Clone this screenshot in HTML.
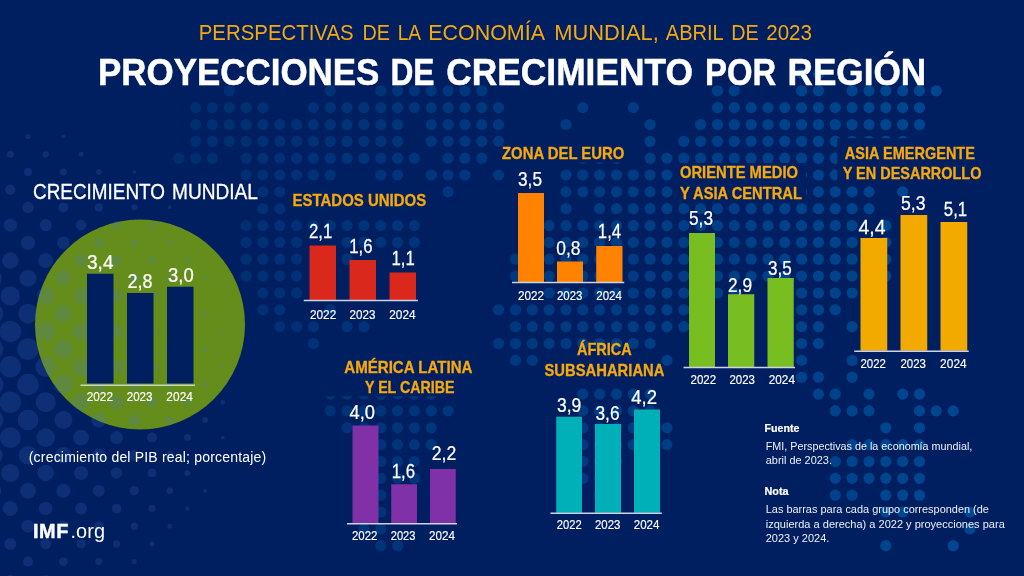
<!DOCTYPE html>
<html lang="es"><head><meta charset="utf-8"><title>Proyecciones de crecimiento por región</title><style>html,body{margin:0;padding:0;background:#001f60;overflow:hidden}svg{display:block;will-change:transform}text{white-space:pre}</style></head><body>
<svg width="1024" height="576" viewBox="0 0 1024 576" font-family="'Liberation Sans', sans-serif">
<rect x="0.00" y="0.00" width="1024.00" height="576.00" fill="#001f60"/>
<g fill="#004c97">
<circle cx="801.6" cy="73.9" r="5.6" opacity="0.78"/>
<circle cx="818.5" cy="73.9" r="5.6" opacity="0.79"/>
<circle cx="229.3" cy="90.8" r="5.6" opacity="0.37"/>
<circle cx="330.3" cy="90.8" r="5.6" opacity="0.44"/>
<circle cx="380.8" cy="90.8" r="5.6" opacity="0.47"/>
<circle cx="397.6" cy="90.8" r="5.6" opacity="0.49"/>
<circle cx="414.4" cy="90.8" r="5.6" opacity="0.50"/>
<circle cx="431.3" cy="90.8" r="5.6" opacity="0.51"/>
<circle cx="448.1" cy="90.8" r="5.6" opacity="0.52"/>
<circle cx="464.9" cy="90.8" r="5.6" opacity="0.54"/>
<circle cx="481.8" cy="90.8" r="5.6" opacity="0.55"/>
<circle cx="717.5" cy="90.8" r="5.6" opacity="0.72"/>
<circle cx="734.3" cy="90.8" r="5.6" opacity="0.73"/>
<circle cx="801.6" cy="90.8" r="5.6" opacity="0.78"/>
<circle cx="818.5" cy="90.8" r="5.6" opacity="0.79"/>
<circle cx="852.1" cy="90.8" r="5.6" opacity="0.81"/>
<circle cx="869.0" cy="90.8" r="5.6" opacity="0.83"/>
<circle cx="885.8" cy="90.8" r="5.6" opacity="0.84"/>
<circle cx="902.7" cy="90.8" r="5.6" opacity="0.85"/>
<circle cx="919.5" cy="90.8" r="5.6" opacity="0.86"/>
<circle cx="936.3" cy="90.8" r="5.6" opacity="0.87"/>
<circle cx="195.6" cy="107.6" r="5.6" opacity="0.34"/>
<circle cx="212.4" cy="107.6" r="5.6" opacity="0.35"/>
<circle cx="229.3" cy="107.6" r="5.6" opacity="0.37"/>
<circle cx="246.1" cy="107.6" r="5.6" opacity="0.38"/>
<circle cx="262.9" cy="107.6" r="5.6" opacity="0.39"/>
<circle cx="313.4" cy="107.6" r="5.6" opacity="0.43"/>
<circle cx="330.3" cy="107.6" r="5.6" opacity="0.44"/>
<circle cx="347.1" cy="107.6" r="5.6" opacity="0.45"/>
<circle cx="363.9" cy="107.6" r="5.6" opacity="0.46"/>
<circle cx="380.8" cy="107.6" r="5.6" opacity="0.47"/>
<circle cx="397.6" cy="107.6" r="5.6" opacity="0.49"/>
<circle cx="414.4" cy="107.6" r="5.6" opacity="0.50"/>
<circle cx="431.3" cy="107.6" r="5.6" opacity="0.51"/>
<circle cx="448.1" cy="107.6" r="5.6" opacity="0.52"/>
<circle cx="464.9" cy="107.6" r="5.6" opacity="0.54"/>
<circle cx="481.8" cy="107.6" r="5.6" opacity="0.55"/>
<circle cx="498.6" cy="107.6" r="5.6" opacity="0.56"/>
<circle cx="582.8" cy="107.6" r="5.6" opacity="0.62"/>
<circle cx="633.3" cy="107.6" r="5.6" opacity="0.66"/>
<circle cx="717.5" cy="107.6" r="5.6" opacity="0.72"/>
<circle cx="734.3" cy="107.6" r="5.6" opacity="0.73"/>
<circle cx="751.1" cy="107.6" r="5.6" opacity="0.74"/>
<circle cx="768.0" cy="107.6" r="5.6" opacity="0.75"/>
<circle cx="784.8" cy="107.6" r="5.6" opacity="0.77"/>
<circle cx="801.6" cy="107.6" r="5.6" opacity="0.78"/>
<circle cx="818.5" cy="107.6" r="5.6" opacity="0.79"/>
<circle cx="835.3" cy="107.6" r="5.6" opacity="0.80"/>
<circle cx="852.1" cy="107.6" r="5.6" opacity="0.81"/>
<circle cx="869.0" cy="107.6" r="5.6" opacity="0.83"/>
<circle cx="885.8" cy="107.6" r="5.6" opacity="0.84"/>
<circle cx="902.7" cy="107.6" r="5.6" opacity="0.85"/>
<circle cx="919.5" cy="107.6" r="5.6" opacity="0.86"/>
<circle cx="195.6" cy="124.5" r="5.6" opacity="0.34"/>
<circle cx="212.4" cy="124.5" r="5.6" opacity="0.35"/>
<circle cx="229.3" cy="124.5" r="5.6" opacity="0.37"/>
<circle cx="246.1" cy="124.5" r="5.6" opacity="0.38"/>
<circle cx="262.9" cy="124.5" r="5.6" opacity="0.39"/>
<circle cx="279.8" cy="124.5" r="5.6" opacity="0.40"/>
<circle cx="296.6" cy="124.5" r="5.6" opacity="0.41"/>
<circle cx="313.4" cy="124.5" r="5.6" opacity="0.43"/>
<circle cx="330.3" cy="124.5" r="5.6" opacity="0.44"/>
<circle cx="347.1" cy="124.5" r="5.6" opacity="0.45"/>
<circle cx="363.9" cy="124.5" r="5.6" opacity="0.46"/>
<circle cx="380.8" cy="124.5" r="5.6" opacity="0.47"/>
<circle cx="397.6" cy="124.5" r="5.6" opacity="0.49"/>
<circle cx="431.3" cy="124.5" r="5.6" opacity="0.51"/>
<circle cx="448.1" cy="124.5" r="5.6" opacity="0.52"/>
<circle cx="464.9" cy="124.5" r="5.6" opacity="0.54"/>
<circle cx="481.8" cy="124.5" r="5.6" opacity="0.55"/>
<circle cx="498.6" cy="124.5" r="5.6" opacity="0.56"/>
<circle cx="566.0" cy="124.5" r="5.6" opacity="0.61"/>
<circle cx="650.1" cy="124.5" r="5.6" opacity="0.67"/>
<circle cx="700.6" cy="124.5" r="5.6" opacity="0.70"/>
<circle cx="717.5" cy="124.5" r="5.6" opacity="0.72"/>
<circle cx="734.3" cy="124.5" r="5.6" opacity="0.73"/>
<circle cx="751.1" cy="124.5" r="5.6" opacity="0.74"/>
<circle cx="768.0" cy="124.5" r="5.6" opacity="0.75"/>
<circle cx="784.8" cy="124.5" r="5.6" opacity="0.77"/>
<circle cx="801.6" cy="124.5" r="5.6" opacity="0.78"/>
<circle cx="818.5" cy="124.5" r="5.6" opacity="0.79"/>
<circle cx="835.3" cy="124.5" r="5.6" opacity="0.80"/>
<circle cx="852.1" cy="124.5" r="5.6" opacity="0.81"/>
<circle cx="869.0" cy="124.5" r="5.6" opacity="0.83"/>
<circle cx="885.8" cy="124.5" r="5.6" opacity="0.84"/>
<circle cx="902.7" cy="124.5" r="5.6" opacity="0.85"/>
<circle cx="919.5" cy="124.5" r="5.6" opacity="0.86"/>
<circle cx="195.6" cy="141.3" r="5.6" opacity="0.34"/>
<circle cx="212.4" cy="141.3" r="5.6" opacity="0.35"/>
<circle cx="229.3" cy="141.3" r="5.6" opacity="0.37"/>
<circle cx="246.1" cy="141.3" r="5.6" opacity="0.38"/>
<circle cx="262.9" cy="141.3" r="5.6" opacity="0.39"/>
<circle cx="279.8" cy="141.3" r="5.6" opacity="0.40"/>
<circle cx="296.6" cy="141.3" r="5.6" opacity="0.41"/>
<circle cx="313.4" cy="141.3" r="5.6" opacity="0.43"/>
<circle cx="330.3" cy="141.3" r="5.6" opacity="0.44"/>
<circle cx="347.1" cy="141.3" r="5.6" opacity="0.45"/>
<circle cx="363.9" cy="141.3" r="5.6" opacity="0.46"/>
<circle cx="380.8" cy="141.3" r="5.6" opacity="0.47"/>
<circle cx="397.6" cy="141.3" r="5.6" opacity="0.49"/>
<circle cx="431.3" cy="141.3" r="5.6" opacity="0.51"/>
<circle cx="448.1" cy="141.3" r="5.6" opacity="0.52"/>
<circle cx="464.9" cy="141.3" r="5.6" opacity="0.54"/>
<circle cx="481.8" cy="141.3" r="5.6" opacity="0.55"/>
<circle cx="498.6" cy="141.3" r="5.6" opacity="0.56"/>
<circle cx="650.1" cy="141.3" r="5.6" opacity="0.67"/>
<circle cx="683.8" cy="141.3" r="5.6" opacity="0.69"/>
<circle cx="700.6" cy="141.3" r="5.6" opacity="0.70"/>
<circle cx="717.5" cy="141.3" r="5.6" opacity="0.72"/>
<circle cx="734.3" cy="141.3" r="5.6" opacity="0.73"/>
<circle cx="751.1" cy="141.3" r="5.6" opacity="0.74"/>
<circle cx="768.0" cy="141.3" r="5.6" opacity="0.75"/>
<circle cx="784.8" cy="141.3" r="5.6" opacity="0.77"/>
<circle cx="801.6" cy="141.3" r="5.6" opacity="0.78"/>
<circle cx="818.5" cy="141.3" r="5.6" opacity="0.79"/>
<circle cx="835.3" cy="141.3" r="5.6" opacity="0.80"/>
<circle cx="852.1" cy="141.3" r="5.6" opacity="0.81"/>
<circle cx="869.0" cy="141.3" r="5.6" opacity="0.83"/>
<circle cx="885.8" cy="141.3" r="5.6" opacity="0.84"/>
<circle cx="902.7" cy="141.3" r="5.6" opacity="0.85"/>
<circle cx="178.8" cy="158.2" r="5.6" opacity="0.33"/>
<circle cx="195.6" cy="158.2" r="5.6" opacity="0.34"/>
<circle cx="212.4" cy="158.2" r="5.6" opacity="0.35"/>
<circle cx="246.1" cy="158.2" r="5.6" opacity="0.38"/>
<circle cx="262.9" cy="158.2" r="5.6" opacity="0.39"/>
<circle cx="279.8" cy="158.2" r="5.6" opacity="0.40"/>
<circle cx="296.6" cy="158.2" r="5.6" opacity="0.41"/>
<circle cx="313.4" cy="158.2" r="5.6" opacity="0.43"/>
<circle cx="330.3" cy="158.2" r="5.6" opacity="0.44"/>
<circle cx="347.1" cy="158.2" r="5.6" opacity="0.45"/>
<circle cx="363.9" cy="158.2" r="5.6" opacity="0.46"/>
<circle cx="380.8" cy="158.2" r="5.6" opacity="0.47"/>
<circle cx="397.6" cy="158.2" r="5.6" opacity="0.49"/>
<circle cx="414.4" cy="158.2" r="5.6" opacity="0.50"/>
<circle cx="448.1" cy="158.2" r="5.6" opacity="0.52"/>
<circle cx="464.9" cy="158.2" r="5.6" opacity="0.54"/>
<circle cx="481.8" cy="158.2" r="5.6" opacity="0.55"/>
<circle cx="582.8" cy="158.2" r="5.6" opacity="0.62"/>
<circle cx="599.6" cy="158.2" r="5.6" opacity="0.63"/>
<circle cx="616.5" cy="158.2" r="5.6" opacity="0.64"/>
<circle cx="650.1" cy="158.2" r="5.6" opacity="0.67"/>
<circle cx="667.0" cy="158.2" r="5.6" opacity="0.68"/>
<circle cx="683.8" cy="158.2" r="5.6" opacity="0.69"/>
<circle cx="700.6" cy="158.2" r="5.6" opacity="0.70"/>
<circle cx="717.5" cy="158.2" r="5.6" opacity="0.72"/>
<circle cx="734.3" cy="158.2" r="5.6" opacity="0.73"/>
<circle cx="751.1" cy="158.2" r="5.6" opacity="0.74"/>
<circle cx="768.0" cy="158.2" r="5.6" opacity="0.75"/>
<circle cx="784.8" cy="158.2" r="5.6" opacity="0.77"/>
<circle cx="801.6" cy="158.2" r="5.6" opacity="0.78"/>
<circle cx="818.5" cy="158.2" r="5.6" opacity="0.79"/>
<circle cx="835.3" cy="158.2" r="5.6" opacity="0.80"/>
<circle cx="852.1" cy="158.2" r="5.6" opacity="0.81"/>
<circle cx="869.0" cy="158.2" r="5.6" opacity="0.83"/>
<circle cx="885.8" cy="158.2" r="5.6" opacity="0.84"/>
<circle cx="902.7" cy="158.2" r="5.6" opacity="0.85"/>
<circle cx="246.1" cy="175.0" r="5.6" opacity="0.38"/>
<circle cx="262.9" cy="175.0" r="5.6" opacity="0.39"/>
<circle cx="279.8" cy="175.0" r="5.6" opacity="0.40"/>
<circle cx="296.6" cy="175.0" r="5.6" opacity="0.41"/>
<circle cx="313.4" cy="175.0" r="5.6" opacity="0.43"/>
<circle cx="330.3" cy="175.0" r="5.6" opacity="0.44"/>
<circle cx="380.8" cy="175.0" r="5.6" opacity="0.47"/>
<circle cx="397.6" cy="175.0" r="5.6" opacity="0.49"/>
<circle cx="431.3" cy="175.0" r="5.6" opacity="0.51"/>
<circle cx="448.1" cy="175.0" r="5.6" opacity="0.52"/>
<circle cx="464.9" cy="175.0" r="5.6" opacity="0.54"/>
<circle cx="498.6" cy="175.0" r="5.6" opacity="0.56"/>
<circle cx="566.0" cy="175.0" r="5.6" opacity="0.61"/>
<circle cx="582.8" cy="175.0" r="5.6" opacity="0.62"/>
<circle cx="599.6" cy="175.0" r="5.6" opacity="0.63"/>
<circle cx="616.5" cy="175.0" r="5.6" opacity="0.64"/>
<circle cx="633.3" cy="175.0" r="5.6" opacity="0.66"/>
<circle cx="650.1" cy="175.0" r="5.6" opacity="0.67"/>
<circle cx="667.0" cy="175.0" r="5.6" opacity="0.68"/>
<circle cx="683.8" cy="175.0" r="5.6" opacity="0.69"/>
<circle cx="700.6" cy="175.0" r="5.6" opacity="0.70"/>
<circle cx="717.5" cy="175.0" r="5.6" opacity="0.72"/>
<circle cx="734.3" cy="175.0" r="5.6" opacity="0.73"/>
<circle cx="751.1" cy="175.0" r="5.6" opacity="0.74"/>
<circle cx="768.0" cy="175.0" r="5.6" opacity="0.75"/>
<circle cx="784.8" cy="175.0" r="5.6" opacity="0.77"/>
<circle cx="801.6" cy="175.0" r="5.6" opacity="0.78"/>
<circle cx="818.5" cy="175.0" r="5.6" opacity="0.79"/>
<circle cx="835.3" cy="175.0" r="5.6" opacity="0.80"/>
<circle cx="852.1" cy="175.0" r="5.6" opacity="0.81"/>
<circle cx="869.0" cy="175.0" r="5.6" opacity="0.83"/>
<circle cx="885.8" cy="175.0" r="5.6" opacity="0.84"/>
<circle cx="902.7" cy="175.0" r="5.6" opacity="0.85"/>
<circle cx="262.9" cy="191.9" r="5.6" opacity="0.39"/>
<circle cx="279.8" cy="191.9" r="5.6" opacity="0.40"/>
<circle cx="448.1" cy="191.9" r="5.6" opacity="0.52"/>
<circle cx="566.0" cy="191.9" r="5.6" opacity="0.61"/>
<circle cx="582.8" cy="191.9" r="5.6" opacity="0.62"/>
<circle cx="599.6" cy="191.9" r="5.6" opacity="0.63"/>
<circle cx="616.5" cy="191.9" r="5.6" opacity="0.64"/>
<circle cx="633.3" cy="191.9" r="5.6" opacity="0.66"/>
<circle cx="650.1" cy="191.9" r="5.6" opacity="0.67"/>
<circle cx="667.0" cy="191.9" r="5.6" opacity="0.68"/>
<circle cx="683.8" cy="191.9" r="5.6" opacity="0.69"/>
<circle cx="700.6" cy="191.9" r="5.6" opacity="0.70"/>
<circle cx="717.5" cy="191.9" r="5.6" opacity="0.72"/>
<circle cx="734.3" cy="191.9" r="5.6" opacity="0.73"/>
<circle cx="751.1" cy="191.9" r="5.6" opacity="0.74"/>
<circle cx="768.0" cy="191.9" r="5.6" opacity="0.75"/>
<circle cx="784.8" cy="191.9" r="5.6" opacity="0.77"/>
<circle cx="801.6" cy="191.9" r="5.6" opacity="0.78"/>
<circle cx="818.5" cy="191.9" r="5.6" opacity="0.79"/>
<circle cx="835.3" cy="191.9" r="5.6" opacity="0.80"/>
<circle cx="852.1" cy="191.9" r="5.6" opacity="0.81"/>
<circle cx="869.0" cy="191.9" r="5.6" opacity="0.83"/>
<circle cx="902.7" cy="191.9" r="5.6" opacity="0.85"/>
<circle cx="262.9" cy="208.7" r="5.6" opacity="0.39"/>
<circle cx="279.8" cy="208.7" r="5.6" opacity="0.40"/>
<circle cx="566.0" cy="208.7" r="5.6" opacity="0.61"/>
<circle cx="599.6" cy="208.7" r="5.6" opacity="0.63"/>
<circle cx="616.5" cy="208.7" r="5.6" opacity="0.64"/>
<circle cx="633.3" cy="208.7" r="5.6" opacity="0.66"/>
<circle cx="650.1" cy="208.7" r="5.6" opacity="0.67"/>
<circle cx="667.0" cy="208.7" r="5.6" opacity="0.68"/>
<circle cx="683.8" cy="208.7" r="5.6" opacity="0.69"/>
<circle cx="700.6" cy="208.7" r="5.6" opacity="0.70"/>
<circle cx="717.5" cy="208.7" r="5.6" opacity="0.72"/>
<circle cx="734.3" cy="208.7" r="5.6" opacity="0.73"/>
<circle cx="751.1" cy="208.7" r="5.6" opacity="0.74"/>
<circle cx="768.0" cy="208.7" r="5.6" opacity="0.75"/>
<circle cx="784.8" cy="208.7" r="5.6" opacity="0.77"/>
<circle cx="801.6" cy="208.7" r="5.6" opacity="0.78"/>
<circle cx="818.5" cy="208.7" r="5.6" opacity="0.79"/>
<circle cx="835.3" cy="208.7" r="5.6" opacity="0.80"/>
<circle cx="852.1" cy="208.7" r="5.6" opacity="0.81"/>
<circle cx="869.0" cy="208.7" r="5.6" opacity="0.83"/>
<circle cx="246.1" cy="225.6" r="5.6" opacity="0.38"/>
<circle cx="262.9" cy="225.6" r="5.6" opacity="0.39"/>
<circle cx="279.8" cy="225.6" r="5.6" opacity="0.40"/>
<circle cx="296.6" cy="225.6" r="5.6" opacity="0.41"/>
<circle cx="313.4" cy="225.6" r="5.6" opacity="0.43"/>
<circle cx="330.3" cy="225.6" r="5.6" opacity="0.44"/>
<circle cx="347.1" cy="225.6" r="5.6" opacity="0.45"/>
<circle cx="363.9" cy="225.6" r="5.6" opacity="0.46"/>
<circle cx="380.8" cy="225.6" r="5.6" opacity="0.47"/>
<circle cx="397.6" cy="225.6" r="5.6" opacity="0.49"/>
<circle cx="414.4" cy="225.6" r="5.6" opacity="0.50"/>
<circle cx="549.1" cy="225.6" r="5.6" opacity="0.60"/>
<circle cx="566.0" cy="225.6" r="5.6" opacity="0.61"/>
<circle cx="582.8" cy="225.6" r="5.6" opacity="0.62"/>
<circle cx="599.6" cy="225.6" r="5.6" opacity="0.63"/>
<circle cx="616.5" cy="225.6" r="5.6" opacity="0.64"/>
<circle cx="633.3" cy="225.6" r="5.6" opacity="0.66"/>
<circle cx="650.1" cy="225.6" r="5.6" opacity="0.67"/>
<circle cx="667.0" cy="225.6" r="5.6" opacity="0.68"/>
<circle cx="683.8" cy="225.6" r="5.6" opacity="0.69"/>
<circle cx="700.6" cy="225.6" r="5.6" opacity="0.70"/>
<circle cx="717.5" cy="225.6" r="5.6" opacity="0.72"/>
<circle cx="734.3" cy="225.6" r="5.6" opacity="0.73"/>
<circle cx="751.1" cy="225.6" r="5.6" opacity="0.74"/>
<circle cx="768.0" cy="225.6" r="5.6" opacity="0.75"/>
<circle cx="784.8" cy="225.6" r="5.6" opacity="0.77"/>
<circle cx="801.6" cy="225.6" r="5.6" opacity="0.78"/>
<circle cx="818.5" cy="225.6" r="5.6" opacity="0.79"/>
<circle cx="835.3" cy="225.6" r="5.6" opacity="0.80"/>
<circle cx="852.1" cy="225.6" r="5.6" opacity="0.81"/>
<circle cx="885.8" cy="225.6" r="5.6" opacity="0.84"/>
<circle cx="246.1" cy="242.4" r="5.6" opacity="0.38"/>
<circle cx="262.9" cy="242.4" r="5.6" opacity="0.39"/>
<circle cx="279.8" cy="242.4" r="5.6" opacity="0.40"/>
<circle cx="296.6" cy="242.4" r="5.6" opacity="0.41"/>
<circle cx="347.1" cy="242.4" r="5.6" opacity="0.45"/>
<circle cx="363.9" cy="242.4" r="5.6" opacity="0.46"/>
<circle cx="380.8" cy="242.4" r="5.6" opacity="0.47"/>
<circle cx="397.6" cy="242.4" r="5.6" opacity="0.49"/>
<circle cx="414.4" cy="242.4" r="5.6" opacity="0.50"/>
<circle cx="549.1" cy="242.4" r="5.6" opacity="0.60"/>
<circle cx="566.0" cy="242.4" r="5.6" opacity="0.61"/>
<circle cx="582.8" cy="242.4" r="5.6" opacity="0.62"/>
<circle cx="599.6" cy="242.4" r="5.6" opacity="0.63"/>
<circle cx="616.5" cy="242.4" r="5.6" opacity="0.64"/>
<circle cx="633.3" cy="242.4" r="5.6" opacity="0.66"/>
<circle cx="650.1" cy="242.4" r="5.6" opacity="0.67"/>
<circle cx="667.0" cy="242.4" r="5.6" opacity="0.68"/>
<circle cx="683.8" cy="242.4" r="5.6" opacity="0.69"/>
<circle cx="700.6" cy="242.4" r="5.6" opacity="0.70"/>
<circle cx="717.5" cy="242.4" r="5.6" opacity="0.72"/>
<circle cx="734.3" cy="242.4" r="5.6" opacity="0.73"/>
<circle cx="751.1" cy="242.4" r="5.6" opacity="0.74"/>
<circle cx="768.0" cy="242.4" r="5.6" opacity="0.75"/>
<circle cx="784.8" cy="242.4" r="5.6" opacity="0.77"/>
<circle cx="801.6" cy="242.4" r="5.6" opacity="0.78"/>
<circle cx="818.5" cy="242.4" r="5.6" opacity="0.79"/>
<circle cx="835.3" cy="242.4" r="5.6" opacity="0.80"/>
<circle cx="852.1" cy="242.4" r="5.6" opacity="0.81"/>
<circle cx="885.8" cy="242.4" r="5.6" opacity="0.84"/>
<circle cx="246.1" cy="259.2" r="5.6" opacity="0.38"/>
<circle cx="262.9" cy="259.2" r="5.6" opacity="0.39"/>
<circle cx="279.8" cy="259.2" r="5.6" opacity="0.40"/>
<circle cx="296.6" cy="259.2" r="5.6" opacity="0.41"/>
<circle cx="347.1" cy="259.2" r="5.6" opacity="0.45"/>
<circle cx="515.5" cy="259.2" r="5.6" opacity="0.57"/>
<circle cx="549.1" cy="259.2" r="5.6" opacity="0.60"/>
<circle cx="566.0" cy="259.2" r="5.6" opacity="0.61"/>
<circle cx="582.8" cy="259.2" r="5.6" opacity="0.62"/>
<circle cx="599.6" cy="259.2" r="5.6" opacity="0.63"/>
<circle cx="616.5" cy="259.2" r="5.6" opacity="0.64"/>
<circle cx="633.3" cy="259.2" r="5.6" opacity="0.66"/>
<circle cx="650.1" cy="259.2" r="5.6" opacity="0.67"/>
<circle cx="667.0" cy="259.2" r="5.6" opacity="0.68"/>
<circle cx="683.8" cy="259.2" r="5.6" opacity="0.69"/>
<circle cx="700.6" cy="259.2" r="5.6" opacity="0.70"/>
<circle cx="717.5" cy="259.2" r="5.6" opacity="0.72"/>
<circle cx="734.3" cy="259.2" r="5.6" opacity="0.73"/>
<circle cx="751.1" cy="259.2" r="5.6" opacity="0.74"/>
<circle cx="768.0" cy="259.2" r="5.6" opacity="0.75"/>
<circle cx="784.8" cy="259.2" r="5.6" opacity="0.77"/>
<circle cx="801.6" cy="259.2" r="5.6" opacity="0.78"/>
<circle cx="818.5" cy="259.2" r="5.6" opacity="0.79"/>
<circle cx="835.3" cy="259.2" r="5.6" opacity="0.80"/>
<circle cx="852.1" cy="259.2" r="5.6" opacity="0.81"/>
<circle cx="885.8" cy="259.2" r="5.6" opacity="0.84"/>
<circle cx="246.1" cy="276.1" r="5.6" opacity="0.38"/>
<circle cx="262.9" cy="276.1" r="5.6" opacity="0.39"/>
<circle cx="279.8" cy="276.1" r="5.6" opacity="0.40"/>
<circle cx="296.6" cy="276.1" r="5.6" opacity="0.41"/>
<circle cx="515.5" cy="276.1" r="5.6" opacity="0.57"/>
<circle cx="549.1" cy="276.1" r="5.6" opacity="0.60"/>
<circle cx="566.0" cy="276.1" r="5.6" opacity="0.61"/>
<circle cx="582.8" cy="276.1" r="5.6" opacity="0.62"/>
<circle cx="599.6" cy="276.1" r="5.6" opacity="0.63"/>
<circle cx="616.5" cy="276.1" r="5.6" opacity="0.64"/>
<circle cx="633.3" cy="276.1" r="5.6" opacity="0.66"/>
<circle cx="650.1" cy="276.1" r="5.6" opacity="0.67"/>
<circle cx="667.0" cy="276.1" r="5.6" opacity="0.68"/>
<circle cx="683.8" cy="276.1" r="5.6" opacity="0.69"/>
<circle cx="700.6" cy="276.1" r="5.6" opacity="0.70"/>
<circle cx="717.5" cy="276.1" r="5.6" opacity="0.72"/>
<circle cx="734.3" cy="276.1" r="5.6" opacity="0.73"/>
<circle cx="751.1" cy="276.1" r="5.6" opacity="0.74"/>
<circle cx="768.0" cy="276.1" r="5.6" opacity="0.75"/>
<circle cx="784.8" cy="276.1" r="5.6" opacity="0.77"/>
<circle cx="801.6" cy="276.1" r="5.6" opacity="0.78"/>
<circle cx="818.5" cy="276.1" r="5.6" opacity="0.79"/>
<circle cx="835.3" cy="276.1" r="5.6" opacity="0.80"/>
<circle cx="852.1" cy="276.1" r="5.6" opacity="0.81"/>
<circle cx="885.8" cy="276.1" r="5.6" opacity="0.84"/>
<circle cx="262.9" cy="293.0" r="5.6" opacity="0.39"/>
<circle cx="279.8" cy="293.0" r="5.6" opacity="0.40"/>
<circle cx="296.6" cy="293.0" r="5.6" opacity="0.41"/>
<circle cx="549.1" cy="293.0" r="5.6" opacity="0.60"/>
<circle cx="566.0" cy="293.0" r="5.6" opacity="0.61"/>
<circle cx="582.8" cy="293.0" r="5.6" opacity="0.62"/>
<circle cx="599.6" cy="293.0" r="5.6" opacity="0.63"/>
<circle cx="616.5" cy="293.0" r="5.6" opacity="0.64"/>
<circle cx="633.3" cy="293.0" r="5.6" opacity="0.66"/>
<circle cx="650.1" cy="293.0" r="5.6" opacity="0.67"/>
<circle cx="667.0" cy="293.0" r="5.6" opacity="0.68"/>
<circle cx="683.8" cy="293.0" r="5.6" opacity="0.69"/>
<circle cx="717.5" cy="293.0" r="5.6" opacity="0.72"/>
<circle cx="734.3" cy="293.0" r="5.6" opacity="0.73"/>
<circle cx="801.6" cy="293.0" r="5.6" opacity="0.78"/>
<circle cx="818.5" cy="293.0" r="5.6" opacity="0.79"/>
<circle cx="835.3" cy="293.0" r="5.6" opacity="0.80"/>
<circle cx="852.1" cy="293.0" r="5.6" opacity="0.81"/>
<circle cx="262.9" cy="309.8" r="5.6" opacity="0.39"/>
<circle cx="279.8" cy="309.8" r="5.6" opacity="0.40"/>
<circle cx="330.3" cy="309.8" r="5.6" opacity="0.44"/>
<circle cx="498.6" cy="309.8" r="5.6" opacity="0.56"/>
<circle cx="515.5" cy="309.8" r="5.6" opacity="0.57"/>
<circle cx="532.3" cy="309.8" r="5.6" opacity="0.58"/>
<circle cx="549.1" cy="309.8" r="5.6" opacity="0.60"/>
<circle cx="566.0" cy="309.8" r="5.6" opacity="0.61"/>
<circle cx="582.8" cy="309.8" r="5.6" opacity="0.62"/>
<circle cx="599.6" cy="309.8" r="5.6" opacity="0.63"/>
<circle cx="616.5" cy="309.8" r="5.6" opacity="0.64"/>
<circle cx="633.3" cy="309.8" r="5.6" opacity="0.66"/>
<circle cx="650.1" cy="309.8" r="5.6" opacity="0.67"/>
<circle cx="667.0" cy="309.8" r="5.6" opacity="0.68"/>
<circle cx="683.8" cy="309.8" r="5.6" opacity="0.69"/>
<circle cx="801.6" cy="309.8" r="5.6" opacity="0.78"/>
<circle cx="818.5" cy="309.8" r="5.6" opacity="0.79"/>
<circle cx="835.3" cy="309.8" r="5.6" opacity="0.80"/>
<circle cx="279.8" cy="326.7" r="5.6" opacity="0.40"/>
<circle cx="296.6" cy="326.7" r="5.6" opacity="0.41"/>
<circle cx="313.4" cy="326.7" r="5.6" opacity="0.43"/>
<circle cx="347.1" cy="326.7" r="5.6" opacity="0.45"/>
<circle cx="363.9" cy="326.7" r="5.6" opacity="0.46"/>
<circle cx="515.5" cy="326.7" r="5.6" opacity="0.57"/>
<circle cx="532.3" cy="326.7" r="5.6" opacity="0.58"/>
<circle cx="549.1" cy="326.7" r="5.6" opacity="0.60"/>
<circle cx="566.0" cy="326.7" r="5.6" opacity="0.61"/>
<circle cx="582.8" cy="326.7" r="5.6" opacity="0.62"/>
<circle cx="599.6" cy="326.7" r="5.6" opacity="0.63"/>
<circle cx="616.5" cy="326.7" r="5.6" opacity="0.64"/>
<circle cx="633.3" cy="326.7" r="5.6" opacity="0.66"/>
<circle cx="650.1" cy="326.7" r="5.6" opacity="0.67"/>
<circle cx="667.0" cy="326.7" r="5.6" opacity="0.68"/>
<circle cx="683.8" cy="326.7" r="5.6" opacity="0.69"/>
<circle cx="801.6" cy="326.7" r="5.6" opacity="0.78"/>
<circle cx="818.5" cy="326.7" r="5.6" opacity="0.79"/>
<circle cx="852.1" cy="326.7" r="5.6" opacity="0.81"/>
<circle cx="313.4" cy="343.5" r="5.6" opacity="0.43"/>
<circle cx="498.6" cy="343.5" r="5.6" opacity="0.56"/>
<circle cx="515.5" cy="343.5" r="5.6" opacity="0.57"/>
<circle cx="532.3" cy="343.5" r="5.6" opacity="0.58"/>
<circle cx="549.1" cy="343.5" r="5.6" opacity="0.60"/>
<circle cx="566.0" cy="343.5" r="5.6" opacity="0.61"/>
<circle cx="582.8" cy="343.5" r="5.6" opacity="0.62"/>
<circle cx="599.6" cy="343.5" r="5.6" opacity="0.63"/>
<circle cx="616.5" cy="343.5" r="5.6" opacity="0.64"/>
<circle cx="633.3" cy="343.5" r="5.6" opacity="0.66"/>
<circle cx="650.1" cy="343.5" r="5.6" opacity="0.67"/>
<circle cx="801.6" cy="343.5" r="5.6" opacity="0.78"/>
<circle cx="818.5" cy="343.5" r="5.6" opacity="0.79"/>
<circle cx="515.5" cy="360.4" r="5.6" opacity="0.57"/>
<circle cx="532.3" cy="360.4" r="5.6" opacity="0.58"/>
<circle cx="549.1" cy="360.4" r="5.6" opacity="0.60"/>
<circle cx="566.0" cy="360.4" r="5.6" opacity="0.61"/>
<circle cx="582.8" cy="360.4" r="5.6" opacity="0.62"/>
<circle cx="599.6" cy="360.4" r="5.6" opacity="0.63"/>
<circle cx="616.5" cy="360.4" r="5.6" opacity="0.64"/>
<circle cx="633.3" cy="360.4" r="5.6" opacity="0.66"/>
<circle cx="650.1" cy="360.4" r="5.6" opacity="0.67"/>
<circle cx="667.0" cy="360.4" r="5.6" opacity="0.68"/>
<circle cx="801.6" cy="360.4" r="5.6" opacity="0.78"/>
<circle cx="852.1" cy="360.4" r="5.6" opacity="0.81"/>
<circle cx="566.0" cy="377.2" r="5.6" opacity="0.61"/>
<circle cx="582.8" cy="377.2" r="5.6" opacity="0.62"/>
<circle cx="599.6" cy="377.2" r="5.6" opacity="0.63"/>
<circle cx="616.5" cy="377.2" r="5.6" opacity="0.64"/>
<circle cx="633.3" cy="377.2" r="5.6" opacity="0.66"/>
<circle cx="650.1" cy="377.2" r="5.6" opacity="0.67"/>
<circle cx="801.6" cy="377.2" r="5.6" opacity="0.78"/>
<circle cx="818.5" cy="377.2" r="5.6" opacity="0.79"/>
<circle cx="852.1" cy="377.2" r="5.6" opacity="0.81"/>
<circle cx="330.3" cy="394.1" r="5.6" opacity="0.44"/>
<circle cx="347.1" cy="394.1" r="5.6" opacity="0.45"/>
<circle cx="363.9" cy="394.1" r="5.6" opacity="0.46"/>
<circle cx="380.8" cy="394.1" r="5.6" opacity="0.47"/>
<circle cx="397.6" cy="394.1" r="5.6" opacity="0.49"/>
<circle cx="414.4" cy="394.1" r="5.6" opacity="0.50"/>
<circle cx="431.3" cy="394.1" r="5.6" opacity="0.51"/>
<circle cx="582.8" cy="394.1" r="5.6" opacity="0.62"/>
<circle cx="599.6" cy="394.1" r="5.6" opacity="0.63"/>
<circle cx="616.5" cy="394.1" r="5.6" opacity="0.64"/>
<circle cx="633.3" cy="394.1" r="5.6" opacity="0.66"/>
<circle cx="650.1" cy="394.1" r="5.6" opacity="0.67"/>
<circle cx="818.5" cy="394.1" r="5.6" opacity="0.79"/>
<circle cx="835.3" cy="394.1" r="5.6" opacity="0.80"/>
<circle cx="869.0" cy="394.1" r="5.6" opacity="0.83"/>
<circle cx="902.7" cy="394.1" r="5.6" opacity="0.85"/>
<circle cx="919.5" cy="394.1" r="5.6" opacity="0.86"/>
<circle cx="330.3" cy="410.9" r="5.6" opacity="0.44"/>
<circle cx="347.1" cy="410.9" r="5.6" opacity="0.45"/>
<circle cx="363.9" cy="410.9" r="5.6" opacity="0.46"/>
<circle cx="380.8" cy="410.9" r="5.6" opacity="0.47"/>
<circle cx="397.6" cy="410.9" r="5.6" opacity="0.49"/>
<circle cx="414.4" cy="410.9" r="5.6" opacity="0.50"/>
<circle cx="431.3" cy="410.9" r="5.6" opacity="0.51"/>
<circle cx="448.1" cy="410.9" r="5.6" opacity="0.52"/>
<circle cx="582.8" cy="410.9" r="5.6" opacity="0.62"/>
<circle cx="599.6" cy="410.9" r="5.6" opacity="0.63"/>
<circle cx="616.5" cy="410.9" r="5.6" opacity="0.64"/>
<circle cx="633.3" cy="410.9" r="5.6" opacity="0.66"/>
<circle cx="650.1" cy="410.9" r="5.6" opacity="0.67"/>
<circle cx="835.3" cy="410.9" r="5.6" opacity="0.80"/>
<circle cx="852.1" cy="410.9" r="5.6" opacity="0.81"/>
<circle cx="869.0" cy="410.9" r="5.6" opacity="0.83"/>
<circle cx="919.5" cy="410.9" r="5.6" opacity="0.86"/>
<circle cx="936.3" cy="410.9" r="5.6" opacity="0.87"/>
<circle cx="953.2" cy="410.9" r="5.6" opacity="0.88"/>
<circle cx="347.1" cy="427.8" r="5.6" opacity="0.45"/>
<circle cx="363.9" cy="427.8" r="5.6" opacity="0.46"/>
<circle cx="380.8" cy="427.8" r="5.6" opacity="0.47"/>
<circle cx="397.6" cy="427.8" r="5.6" opacity="0.49"/>
<circle cx="414.4" cy="427.8" r="5.6" opacity="0.50"/>
<circle cx="431.3" cy="427.8" r="5.6" opacity="0.51"/>
<circle cx="582.8" cy="427.8" r="5.6" opacity="0.62"/>
<circle cx="599.6" cy="427.8" r="5.6" opacity="0.63"/>
<circle cx="616.5" cy="427.8" r="5.6" opacity="0.64"/>
<circle cx="633.3" cy="427.8" r="5.6" opacity="0.66"/>
<circle cx="667.0" cy="427.8" r="5.6" opacity="0.68"/>
<circle cx="885.8" cy="427.8" r="5.6" opacity="0.84"/>
<circle cx="919.5" cy="427.8" r="5.6" opacity="0.86"/>
<circle cx="380.8" cy="444.6" r="5.6" opacity="0.47"/>
<circle cx="397.6" cy="444.6" r="5.6" opacity="0.49"/>
<circle cx="414.4" cy="444.6" r="5.6" opacity="0.50"/>
<circle cx="431.3" cy="444.6" r="5.6" opacity="0.51"/>
<circle cx="582.8" cy="444.6" r="5.6" opacity="0.62"/>
<circle cx="599.6" cy="444.6" r="5.6" opacity="0.63"/>
<circle cx="616.5" cy="444.6" r="5.6" opacity="0.64"/>
<circle cx="633.3" cy="444.6" r="5.6" opacity="0.66"/>
<circle cx="667.0" cy="444.6" r="5.6" opacity="0.68"/>
<circle cx="852.1" cy="444.6" r="5.6" opacity="0.81"/>
<circle cx="869.0" cy="444.6" r="5.6" opacity="0.83"/>
<circle cx="885.8" cy="444.6" r="5.6" opacity="0.84"/>
<circle cx="902.7" cy="444.6" r="5.6" opacity="0.85"/>
<circle cx="919.5" cy="444.6" r="5.6" opacity="0.86"/>
<circle cx="380.8" cy="461.5" r="5.6" opacity="0.47"/>
<circle cx="397.6" cy="461.5" r="5.6" opacity="0.49"/>
<circle cx="414.4" cy="461.5" r="5.6" opacity="0.50"/>
<circle cx="582.8" cy="461.5" r="5.6" opacity="0.62"/>
<circle cx="599.6" cy="461.5" r="5.6" opacity="0.63"/>
<circle cx="616.5" cy="461.5" r="5.6" opacity="0.64"/>
<circle cx="835.3" cy="461.5" r="5.6" opacity="0.80"/>
<circle cx="852.1" cy="461.5" r="5.6" opacity="0.81"/>
<circle cx="869.0" cy="461.5" r="5.6" opacity="0.83"/>
<circle cx="885.8" cy="461.5" r="5.6" opacity="0.84"/>
<circle cx="902.7" cy="461.5" r="5.6" opacity="0.85"/>
<circle cx="919.5" cy="461.5" r="5.6" opacity="0.86"/>
<circle cx="380.8" cy="478.3" r="5.6" opacity="0.47"/>
<circle cx="397.6" cy="478.3" r="5.6" opacity="0.49"/>
<circle cx="414.4" cy="478.3" r="5.6" opacity="0.50"/>
<circle cx="582.8" cy="478.3" r="5.6" opacity="0.62"/>
<circle cx="599.6" cy="478.3" r="5.6" opacity="0.63"/>
<circle cx="835.3" cy="478.3" r="5.6" opacity="0.80"/>
<circle cx="852.1" cy="478.3" r="5.6" opacity="0.81"/>
<circle cx="869.0" cy="478.3" r="5.6" opacity="0.83"/>
<circle cx="885.8" cy="478.3" r="5.6" opacity="0.84"/>
<circle cx="902.7" cy="478.3" r="5.6" opacity="0.85"/>
<circle cx="919.5" cy="478.3" r="5.6" opacity="0.86"/>
<circle cx="380.8" cy="495.2" r="5.6" opacity="0.47"/>
<circle cx="397.6" cy="495.2" r="5.6" opacity="0.49"/>
<circle cx="599.6" cy="495.2" r="5.6" opacity="0.63"/>
<circle cx="835.3" cy="495.2" r="5.6" opacity="0.80"/>
<circle cx="852.1" cy="495.2" r="5.6" opacity="0.81"/>
<circle cx="885.8" cy="495.2" r="5.6" opacity="0.84"/>
<circle cx="902.7" cy="495.2" r="5.6" opacity="0.85"/>
<circle cx="919.5" cy="495.2" r="5.6" opacity="0.86"/>
<circle cx="380.8" cy="512.0" r="5.6" opacity="0.47"/>
<circle cx="397.6" cy="512.0" r="5.6" opacity="0.49"/>
<circle cx="885.8" cy="512.0" r="5.6" opacity="0.84"/>
<circle cx="902.7" cy="512.0" r="5.6" opacity="0.85"/>
<circle cx="970.0" cy="512.0" r="5.6" opacity="0.88"/>
<circle cx="363.9" cy="528.9" r="5.6" opacity="0.46"/>
<circle cx="380.8" cy="528.9" r="5.6" opacity="0.47"/>
<circle cx="970.0" cy="528.9" r="5.6" opacity="0.88"/>
<circle cx="380.8" cy="545.7" r="5.6" opacity="0.47"/>
<circle cx="397.6" cy="545.7" r="5.6" opacity="0.49"/>
<circle cx="885.8" cy="545.7" r="5.6" opacity="0.84"/>
<circle cx="953.2" cy="545.7" r="5.6" opacity="0.88"/>
</g>
<circle cx="140" cy="324.4" r="105" fill="#658d1b"/>
<g fill="#4678d7" fill-opacity="0.18">
<circle cx="-7.4" cy="136.5" r="2.90"/>
<circle cx="28.0" cy="136.5" r="2.61"/>
<circle cx="63.4" cy="136.5" r="2.12"/>
<circle cx="10.3" cy="154.3" r="3.57"/>
<circle cx="45.7" cy="154.3" r="3.15"/>
<circle cx="81.1" cy="154.3" r="2.51"/>
<circle cx="-7.4" cy="172.0" r="4.48"/>
<circle cx="28.0" cy="172.0" r="4.16"/>
<circle cx="63.4" cy="172.0" r="3.58"/>
<circle cx="98.8" cy="172.0" r="2.81"/>
<circle cx="134.3" cy="172.0" r="1.87"/>
<circle cx="10.3" cy="189.7" r="5.13"/>
<circle cx="45.7" cy="189.7" r="4.64"/>
<circle cx="81.1" cy="189.7" r="3.91"/>
<circle cx="116.5" cy="189.7" r="2.99"/>
<circle cx="152.0" cy="189.7" r="1.93"/>
<circle cx="-7.4" cy="207.4" r="6.07"/>
<circle cx="28.0" cy="207.4" r="5.67"/>
<circle cx="63.4" cy="207.4" r="5.00"/>
<circle cx="98.8" cy="207.4" r="4.11"/>
<circle cx="134.3" cy="207.4" r="3.06"/>
<circle cx="169.7" cy="207.4" r="1.88"/>
<circle cx="10.3" cy="225.1" r="6.68"/>
<circle cx="45.7" cy="225.1" r="6.09"/>
<circle cx="81.1" cy="225.1" r="5.23"/>
<circle cx="116.5" cy="225.1" r="4.19"/>
<circle cx="152.0" cy="225.1" r="3.00"/>
<circle cx="-7.4" cy="242.8" r="7.64"/>
<circle cx="28.0" cy="242.8" r="7.16"/>
<circle cx="63.4" cy="242.8" r="6.35"/>
<circle cx="98.8" cy="242.8" r="5.32"/>
<circle cx="134.3" cy="242.8" r="4.13"/>
<circle cx="169.7" cy="242.8" r="2.83"/>
<circle cx="10.3" cy="260.5" r="8.20"/>
<circle cx="45.7" cy="260.5" r="7.46"/>
<circle cx="81.1" cy="260.5" r="6.45"/>
<circle cx="116.5" cy="260.5" r="5.25"/>
<circle cx="152.0" cy="260.5" r="3.94"/>
<circle cx="187.4" cy="260.5" r="2.55"/>
<circle cx="-7.4" cy="278.2" r="9.20"/>
<circle cx="28.0" cy="278.2" r="8.57"/>
<circle cx="63.4" cy="278.2" r="7.58"/>
<circle cx="98.8" cy="278.2" r="6.37"/>
<circle cx="134.3" cy="278.2" r="5.04"/>
<circle cx="169.7" cy="278.2" r="3.63"/>
<circle cx="205.1" cy="278.2" r="2.17"/>
<circle cx="10.3" cy="295.9" r="9.66"/>
<circle cx="45.7" cy="295.9" r="8.71"/>
<circle cx="81.1" cy="295.9" r="7.49"/>
<circle cx="116.5" cy="295.9" r="6.13"/>
<circle cx="152.0" cy="295.9" r="4.69"/>
<circle cx="187.4" cy="295.9" r="3.20"/>
<circle cx="-7.4" cy="313.6" r="10.73"/>
<circle cx="28.0" cy="313.6" r="9.84"/>
<circle cx="63.4" cy="313.6" r="8.60"/>
<circle cx="98.8" cy="313.6" r="7.20"/>
<circle cx="134.3" cy="313.6" r="5.73"/>
<circle cx="169.7" cy="313.6" r="4.22"/>
<circle cx="205.1" cy="313.6" r="2.68"/>
<circle cx="10.3" cy="331.4" r="10.75"/>
<circle cx="45.7" cy="331.4" r="9.70"/>
<circle cx="81.1" cy="331.4" r="8.25"/>
<circle cx="116.5" cy="331.4" r="6.74"/>
<circle cx="152.0" cy="331.4" r="5.20"/>
<circle cx="187.4" cy="331.4" r="3.64"/>
<circle cx="222.8" cy="331.4" r="2.07"/>
<circle cx="-7.4" cy="349.1" r="10.75"/>
<circle cx="28.0" cy="349.1" r="10.75"/>
<circle cx="63.4" cy="349.1" r="9.27"/>
<circle cx="98.8" cy="349.1" r="7.72"/>
<circle cx="134.3" cy="349.1" r="6.15"/>
<circle cx="169.7" cy="349.1" r="4.56"/>
<circle cx="205.1" cy="349.1" r="2.98"/>
<circle cx="10.3" cy="366.8" r="10.75"/>
<circle cx="45.7" cy="366.8" r="10.22"/>
<circle cx="81.1" cy="366.8" r="8.63"/>
<circle cx="116.5" cy="366.8" r="7.03"/>
<circle cx="152.0" cy="366.8" r="5.44"/>
<circle cx="187.4" cy="366.8" r="3.84"/>
<circle cx="222.8" cy="366.8" r="2.24"/>
<circle cx="-7.4" cy="384.5" r="10.75"/>
<circle cx="28.0" cy="384.5" r="10.75"/>
<circle cx="63.4" cy="384.5" r="9.43"/>
<circle cx="98.8" cy="384.5" r="7.83"/>
<circle cx="134.3" cy="384.5" r="6.24"/>
<circle cx="169.7" cy="384.5" r="4.64"/>
<circle cx="205.1" cy="384.5" r="3.04"/>
<circle cx="10.3" cy="402.2" r="10.75"/>
<circle cx="45.7" cy="402.2" r="10.06"/>
<circle cx="81.1" cy="402.2" r="8.52"/>
<circle cx="116.5" cy="402.2" r="6.95"/>
<circle cx="152.0" cy="402.2" r="5.37"/>
<circle cx="187.4" cy="402.2" r="3.78"/>
<circle cx="222.8" cy="402.2" r="2.19"/>
<circle cx="-7.4" cy="419.9" r="10.75"/>
<circle cx="28.0" cy="419.9" r="10.42"/>
<circle cx="63.4" cy="419.9" r="9.02"/>
<circle cx="98.8" cy="419.9" r="7.53"/>
<circle cx="134.3" cy="419.9" r="6.00"/>
<circle cx="169.7" cy="419.9" r="4.44"/>
<circle cx="205.1" cy="419.9" r="2.87"/>
<circle cx="10.3" cy="437.6" r="10.42"/>
<circle cx="45.7" cy="437.6" r="9.30"/>
<circle cx="81.1" cy="437.6" r="7.95"/>
<circle cx="116.5" cy="437.6" r="6.51"/>
<circle cx="152.0" cy="437.6" r="5.01"/>
<circle cx="187.4" cy="437.6" r="3.48"/>
<circle cx="222.8" cy="437.6" r="1.93"/>
<circle cx="-7.4" cy="455.3" r="10.06"/>
<circle cx="28.0" cy="455.3" r="9.30"/>
<circle cx="63.4" cy="455.3" r="8.18"/>
<circle cx="98.8" cy="455.3" r="6.86"/>
<circle cx="134.3" cy="455.3" r="5.45"/>
<circle cx="169.7" cy="455.3" r="3.98"/>
<circle cx="205.1" cy="455.3" r="2.48"/>
<circle cx="10.3" cy="473.0" r="9.02"/>
<circle cx="45.7" cy="473.0" r="8.18"/>
<circle cx="81.1" cy="473.0" r="7.05"/>
<circle cx="116.5" cy="473.0" r="5.76"/>
<circle cx="152.0" cy="473.0" r="4.38"/>
<circle cx="187.4" cy="473.0" r="2.94"/>
<circle cx="-7.4" cy="490.8" r="8.51"/>
<circle cx="28.0" cy="490.8" r="7.95"/>
<circle cx="63.4" cy="490.8" r="7.05"/>
<circle cx="98.8" cy="490.8" r="5.92"/>
<circle cx="134.3" cy="490.8" r="4.66"/>
<circle cx="169.7" cy="490.8" r="3.30"/>
<circle cx="205.1" cy="490.8" r="1.88"/>
<circle cx="10.3" cy="508.5" r="7.53"/>
<circle cx="45.7" cy="508.5" r="6.86"/>
<circle cx="81.1" cy="508.5" r="5.92"/>
<circle cx="116.5" cy="508.5" r="4.80"/>
<circle cx="152.0" cy="508.5" r="3.54"/>
<circle cx="187.4" cy="508.5" r="2.21"/>
<circle cx="-7.4" cy="526.2" r="6.94"/>
<circle cx="28.0" cy="526.2" r="6.50"/>
<circle cx="63.4" cy="526.2" r="5.76"/>
<circle cx="98.8" cy="526.2" r="4.80"/>
<circle cx="134.3" cy="526.2" r="3.67"/>
<circle cx="169.7" cy="526.2" r="2.43"/>
<circle cx="10.3" cy="543.9" r="5.99"/>
<circle cx="45.7" cy="543.9" r="5.45"/>
<circle cx="81.1" cy="543.9" r="4.65"/>
<circle cx="116.5" cy="543.9" r="3.67"/>
<circle cx="152.0" cy="543.9" r="2.54"/>
<circle cx="-7.4" cy="561.6" r="5.36"/>
<circle cx="28.0" cy="561.6" r="5.00"/>
<circle cx="63.4" cy="561.6" r="4.38"/>
<circle cx="98.8" cy="561.6" r="3.54"/>
<circle cx="134.3" cy="561.6" r="2.54"/>
<circle cx="10.3" cy="579.3" r="4.44"/>
<circle cx="45.7" cy="579.3" r="3.98"/>
<circle cx="81.1" cy="579.3" r="3.30"/>
<circle cx="116.5" cy="579.3" r="2.43"/>
</g>
<rect x="837.30" y="138.20" width="162.70" height="47.10" fill="#001f60"/>
<rect x="675.00" y="163.00" width="131.00" height="40.00" fill="#001f60"/>
<rect x="500.00" y="146.00" width="128.00" height="16.30" fill="#001f60"/>
<rect x="288.00" y="190.00" width="142.00" height="19.50" fill="#001f60"/>
<rect x="318.00" y="356.00" width="162.00" height="40.20" fill="#001f60"/>
<rect x="538.50" y="349.50" width="122.50" height="34.00" fill="#001f60"/>
<text transform="translate(198.75 39.60) scale(0.8951 1)" font-size="22.80" fill="#f5a90f">PERSPECTIVAS</text>
<text transform="translate(362.50 39.60) scale(0.8684 1)" font-size="22.80" fill="#f5a90f">DE</text>
<text transform="translate(397.66 39.60) scale(0.8400 1)" font-size="22.80" fill="#f5a90f">LA</text>
<text transform="translate(428.25 39.60) scale(0.9404 1)" font-size="22.80" fill="#f5a90f">ECONOMÍA</text>
<text transform="translate(554.25 39.60) scale(0.9593 1)" font-size="22.80" fill="#f5a90f">MUNDIAL,</text>
<text transform="translate(665.75 39.60) scale(0.8802 1)" font-size="22.80" fill="#f5a90f">ABRIL</text>
<text transform="translate(731.25 39.60) scale(0.8684 1)" font-size="22.80" fill="#f5a90f">DE</text>
<text transform="translate(766.25 39.60) scale(0.9018 1)" font-size="22.80" fill="#f5a90f">2023</text>
<text transform="translate(98.00 85.00) scale(0.9243 1)" font-size="37.80" font-weight="700" stroke="#ffffff" stroke-width="0.50" fill="#ffffff">PROYECCIONES</text>
<text transform="translate(390.45 85.00) scale(0.8400 1)" font-size="37.80" font-weight="700" stroke="#ffffff" stroke-width="0.50" fill="#ffffff">DE</text>
<text transform="translate(446.25 85.00) scale(0.9349 1)" font-size="37.80" font-weight="700" stroke="#ffffff" stroke-width="0.50" fill="#ffffff">CRECIMIENTO</text>
<text transform="translate(705.00 85.00) scale(0.8698 1)" font-size="37.80" font-weight="700" stroke="#ffffff" stroke-width="0.50" fill="#ffffff">POR</text>
<text transform="translate(787.50 85.00) scale(0.9305 1)" font-size="37.80" font-weight="700" stroke="#ffffff" stroke-width="0.50" fill="#ffffff">REGIÓN</text>
<text transform="translate(33.00 198.80) scale(0.8918 1)" font-size="21.20" stroke="#ffffff" stroke-width="0.30" fill="#ffffff">CRECIMIENTO</text>
<text transform="translate(172.00 198.80) scale(0.9013 1)" font-size="21.20" stroke="#ffffff" stroke-width="0.30" fill="#ffffff">MUNDIAL</text>
<rect x="87.00" y="273.75" width="26.50" height="109.75" fill="#001f60"/>
<rect x="127.00" y="293.00" width="26.50" height="90.50" fill="#001f60"/>
<rect x="167.00" y="286.75" width="26.50" height="96.75" fill="#001f60"/>
<rect x="80.50" y="384.60" width="114.50" height="1.20" fill="#e4e9dc"/>
<text transform="translate(87.00 269.10) scale(0.9210 1)" font-size="20.70" stroke="#ffffff" stroke-width="0.25" fill="#ffffff">3,4</text>
<text transform="translate(127.50 288.35) scale(0.8689 1)" font-size="20.70" stroke="#ffffff" stroke-width="0.25" fill="#ffffff">2,8</text>
<text transform="translate(168.00 282.10) scale(0.8949 1)" font-size="20.70" stroke="#ffffff" stroke-width="0.25" fill="#ffffff">3,0</text>
<text transform="translate(86.75 401.00) scale(0.9938 1)" font-size="11.87" stroke="#ffffff" stroke-width="0.15" fill="#ffffff">2022</text>
<text transform="translate(126.75 401.00) scale(0.9749 1)" font-size="11.87" stroke="#ffffff" stroke-width="0.15" fill="#ffffff">2023</text>
<text x="166.25" y="401.00" font-size="11.87" stroke="#ffffff" stroke-width="0.15" fill="#ffffff" letter-spacing="0.112">2024</text>
<text transform="translate(292.50 205.75) scale(0.9423 1)" font-size="15.90" font-weight="700" stroke="#f5a90f" stroke-width="0.30" fill="#f5a90f">ESTADOS UNIDOS</text>
<rect x="309.50" y="245.50" width="26.50" height="54.50" fill="#da291c"/>
<rect x="349.50" y="260.00" width="26.50" height="40.00" fill="#da291c"/>
<rect x="389.50" y="272.50" width="26.50" height="27.50" fill="#da291c"/>
<rect x="303.75" y="299.75" width="114.25" height="1.50" fill="#ccd3e6"/>
<text transform="translate(308.95 238.30) scale(0.8400 1)" font-size="20.00" stroke="#ffffff" stroke-width="0.25" fill="#ffffff">2,1</text>
<text transform="translate(349.20 252.80) scale(0.8400 1)" font-size="20.00" stroke="#ffffff" stroke-width="0.25" fill="#ffffff">1,6</text>
<text transform="translate(391.45 265.30) scale(0.8400 1)" font-size="20.00" stroke="#ffffff" stroke-width="0.25" fill="#ffffff">1,1</text>
<text transform="translate(310.00 319.00) scale(0.9938 1)" font-size="11.87" stroke="#ffffff" stroke-width="0.15" fill="#ffffff">2022</text>
<text transform="translate(349.50 319.00) scale(0.9843 1)" font-size="11.87" stroke="#ffffff" stroke-width="0.15" fill="#ffffff">2023</text>
<text x="389.25" y="319.00" font-size="11.87" stroke="#ffffff" stroke-width="0.15" fill="#ffffff" letter-spacing="0.029">2024</text>
<text transform="translate(502.00 159.00) scale(0.9362 1)" font-size="15.90" font-weight="700" stroke="#f5a90f" stroke-width="0.30" fill="#f5a90f">ZONA DEL EURO</text>
<rect x="518.00" y="193.00" width="26.00" height="89.00" fill="#ff8200"/>
<rect x="557.00" y="261.50" width="26.00" height="20.50" fill="#ff8200"/>
<rect x="596.25" y="246.00" width="26.25" height="36.00" fill="#ff8200"/>
<rect x="512.00" y="281.75" width="112.25" height="1.50" fill="#ccd3e6"/>
<text transform="translate(518.00 186.30) scale(0.8633 1)" font-size="20.00" stroke="#ffffff" stroke-width="0.25" fill="#ffffff">3,5</text>
<text transform="translate(556.25 254.55) scale(0.8723 1)" font-size="20.00" stroke="#ffffff" stroke-width="0.25" fill="#ffffff">0,8</text>
<text transform="translate(597.82 238.05) scale(0.8400 1)" font-size="20.00" stroke="#ffffff" stroke-width="0.25" fill="#ffffff">1,4</text>
<text transform="translate(518.00 299.75) scale(0.9843 1)" font-size="11.87" stroke="#ffffff" stroke-width="0.15" fill="#ffffff">2022</text>
<text transform="translate(557.00 299.75) scale(0.9654 1)" font-size="11.87" stroke="#ffffff" stroke-width="0.15" fill="#ffffff">2023</text>
<text transform="translate(596.25 299.75) scale(0.9749 1)" font-size="11.87" stroke="#ffffff" stroke-width="0.15" fill="#ffffff">2024</text>
<text transform="translate(680.00 178.25) scale(0.9276 1)" font-size="15.90" font-weight="700" stroke="#f5a90f" stroke-width="0.30" fill="#f5a90f">ORIENTE MEDIO</text>
<text transform="translate(680.00 199.00) scale(0.9248 1)" font-size="15.90" font-weight="700" stroke="#f5a90f" stroke-width="0.30" fill="#f5a90f">Y ASIA CENTRAL</text>
<rect x="689.00" y="233.00" width="26.00" height="134.00" fill="#78be20"/>
<rect x="728.00" y="294.25" width="26.25" height="72.75" fill="#78be20"/>
<rect x="767.50" y="278.00" width="26.25" height="89.00" fill="#78be20"/>
<rect x="683.50" y="366.75" width="111.50" height="1.50" fill="#ccd3e6"/>
<text transform="translate(689.00 224.80) scale(0.8633 1)" font-size="20.00" stroke="#ffffff" stroke-width="0.25" fill="#ffffff">5,3</text>
<text transform="translate(728.00 291.80) scale(0.8633 1)" font-size="20.00" stroke="#ffffff" stroke-width="0.25" fill="#ffffff">2,9</text>
<text transform="translate(768.00 275.30) scale(0.8543 1)" font-size="20.00" stroke="#ffffff" stroke-width="0.25" fill="#ffffff">3,5</text>
<text transform="translate(690.50 383.75) scale(0.9749 1)" font-size="11.87" stroke="#ffffff" stroke-width="0.15" fill="#ffffff">2022</text>
<text transform="translate(729.50 383.75) scale(0.9654 1)" font-size="11.87" stroke="#ffffff" stroke-width="0.15" fill="#ffffff">2023</text>
<text transform="translate(768.75 383.75) scale(0.9938 1)" font-size="11.87" stroke="#ffffff" stroke-width="0.15" fill="#ffffff">2024</text>
<text transform="translate(844.80 159.00) scale(0.9135 1)" font-size="15.90" font-weight="700" stroke="#f5a90f" stroke-width="0.30" fill="#f5a90f">ASIA EMERGENTE</text>
<text transform="translate(842.70 179.30) scale(0.9106 1)" font-size="15.90" font-weight="700" stroke="#f5a90f" stroke-width="0.30" fill="#f5a90f">Y EN DESARROLLO</text>
<rect x="860.50" y="238.00" width="26.75" height="112.75" fill="#f2a900"/>
<rect x="900.50" y="215.00" width="26.75" height="135.75" fill="#f2a900"/>
<rect x="940.50" y="222.00" width="26.75" height="128.75" fill="#f2a900"/>
<rect x="854.25" y="350.50" width="114.50" height="1.50" fill="#ccd3e6"/>
<text transform="translate(858.50 234.05) scale(0.9712 1)" font-size="20.00" stroke="#ffffff" stroke-width="0.25" fill="#ffffff">4,4</text>
<text transform="translate(901.00 210.30) scale(0.8813 1)" font-size="20.00" stroke="#ffffff" stroke-width="0.25" fill="#ffffff">5,3</text>
<text transform="translate(943.82 215.80) scale(0.8400 1)" font-size="20.00" stroke="#ffffff" stroke-width="0.25" fill="#ffffff">5,1</text>
<text transform="translate(860.50 367.50) scale(0.9654 1)" font-size="11.87" stroke="#ffffff" stroke-width="0.15" fill="#ffffff">2022</text>
<text transform="translate(900.50 367.50) scale(0.9654 1)" font-size="11.87" stroke="#ffffff" stroke-width="0.15" fill="#ffffff">2023</text>
<text x="940.00" y="367.50" font-size="11.87" stroke="#ffffff" stroke-width="0.15" fill="#ffffff" letter-spacing="0.112">2024</text>
<text transform="translate(344.25 372.50) scale(0.9491 1)" font-size="15.90" font-weight="700" stroke="#f5a90f" stroke-width="0.30" fill="#f5a90f">AMÉRICA LATINA</text>
<text transform="translate(365.00 393.00) scale(0.8938 1)" font-size="15.90" font-weight="700" stroke="#f5a90f" stroke-width="0.30" fill="#f5a90f">Y EL CARIBE</text>
<rect x="352.50" y="425.50" width="26.00" height="97.75" fill="#8031a7"/>
<rect x="391.25" y="484.25" width="25.75" height="39.00" fill="#8031a7"/>
<rect x="430.00" y="469.00" width="25.75" height="54.25" fill="#8031a7"/>
<rect x="347.00" y="523.00" width="110.00" height="1.50" fill="#ccd3e6"/>
<text transform="translate(349.50 419.05) scale(0.9173 1)" font-size="20.00" stroke="#ffffff" stroke-width="0.25" fill="#ffffff">4,0</text>
<text transform="translate(391.70 477.80) scale(0.8400 1)" font-size="20.00" stroke="#ffffff" stroke-width="0.25" fill="#ffffff">1,6</text>
<text transform="translate(431.75 459.70) scale(0.8813 1)" font-size="20.00" stroke="#ffffff" stroke-width="0.25" fill="#ffffff">2,2</text>
<text transform="translate(352.00 539.50) scale(0.9654 1)" font-size="11.87" stroke="#ffffff" stroke-width="0.15" fill="#ffffff">2022</text>
<text transform="translate(390.75 539.50) scale(0.9370 1)" font-size="11.87" stroke="#ffffff" stroke-width="0.15" fill="#ffffff">2023</text>
<text transform="translate(429.00 539.50) scale(0.9843 1)" font-size="11.87" stroke="#ffffff" stroke-width="0.15" fill="#ffffff">2024</text>
<text transform="translate(577.00 355.00) scale(0.9117 1)" font-size="15.90" font-weight="700" stroke="#f5a90f" stroke-width="0.30" fill="#f5a90f">ÁFRICA</text>
<text transform="translate(544.50 375.50) scale(0.9305 1)" font-size="15.90" font-weight="700" stroke="#f5a90f" stroke-width="0.30" fill="#f5a90f">SUBSAHARIANA</text>
<rect x="556.25" y="416.75" width="25.75" height="96.00" fill="#00b0b9"/>
<rect x="595.00" y="424.00" width="26.00" height="88.75" fill="#00b0b9"/>
<rect x="634.00" y="409.50" width="26.00" height="103.25" fill="#00b0b9"/>
<rect x="550.50" y="512.50" width="111.25" height="1.50" fill="#ccd3e6"/>
<text transform="translate(557.00 412.30) scale(0.8723 1)" font-size="20.00" stroke="#ffffff" stroke-width="0.25" fill="#ffffff">3,9</text>
<text transform="translate(595.50 419.80) scale(0.8633 1)" font-size="20.00" stroke="#ffffff" stroke-width="0.25" fill="#ffffff">3,6</text>
<text transform="translate(631.25 404.30) scale(0.9263 1)" font-size="20.00" stroke="#ffffff" stroke-width="0.25" fill="#ffffff">4,2</text>
<text transform="translate(556.75 529.00) scale(0.9465 1)" font-size="11.87" stroke="#ffffff" stroke-width="0.15" fill="#ffffff">2022</text>
<text transform="translate(595.00 529.00) scale(0.9654 1)" font-size="11.87" stroke="#ffffff" stroke-width="0.15" fill="#ffffff">2023</text>
<text transform="translate(633.75 529.00) scale(0.9749 1)" font-size="11.87" stroke="#ffffff" stroke-width="0.15" fill="#ffffff">2024</text>
<text x="28.75" y="461.60" font-size="14.00" fill="#ffffff" letter-spacing="0.194">(crecimiento del PIB real; porcentaje)</text>
<text x="33.00" y="538.00" font-size="19.90" font-weight="700" stroke="#ffffff" stroke-width="0.40" fill="#ffffff" letter-spacing="0.564">IMF</text>
<text x="70.50" y="538.00" font-size="19.90" fill="#ffffff" letter-spacing="0.069">.org</text>
<text transform="translate(764.50 432.00) scale(0.9677 1)" font-size="11.03" font-weight="700" stroke="#ffffff" stroke-width="0.20" fill="#ffffff">Fuente</text>
<text transform="translate(765.75 450.00) scale(0.9650 1)" font-size="11.17" fill="#eef1f8">FMI, Perspectivas de la economía mundial,</text>
<text transform="translate(765.75 464.25) scale(0.9784 1)" font-size="11.17" fill="#eef1f8">abril de 2023.</text>
<text transform="translate(764.50 495.00) scale(0.9860 1)" font-size="11.03" font-weight="700" stroke="#ffffff" stroke-width="0.20" fill="#ffffff">Nota</text>
<text transform="translate(765.75 513.00) scale(0.9805 1)" font-size="11.17" fill="#eef1f8">Las barras para cada grupo corresponden (de</text>
<text transform="translate(765.75 527.50) scale(0.9876 1)" font-size="11.17" fill="#eef1f8">izquierda a derecha) a 2022 y proyecciones para</text>
<text transform="translate(765.75 542.00) scale(0.9866 1)" font-size="11.17" fill="#eef1f8">2023 y 2024.</text>
</svg>
</body></html>
